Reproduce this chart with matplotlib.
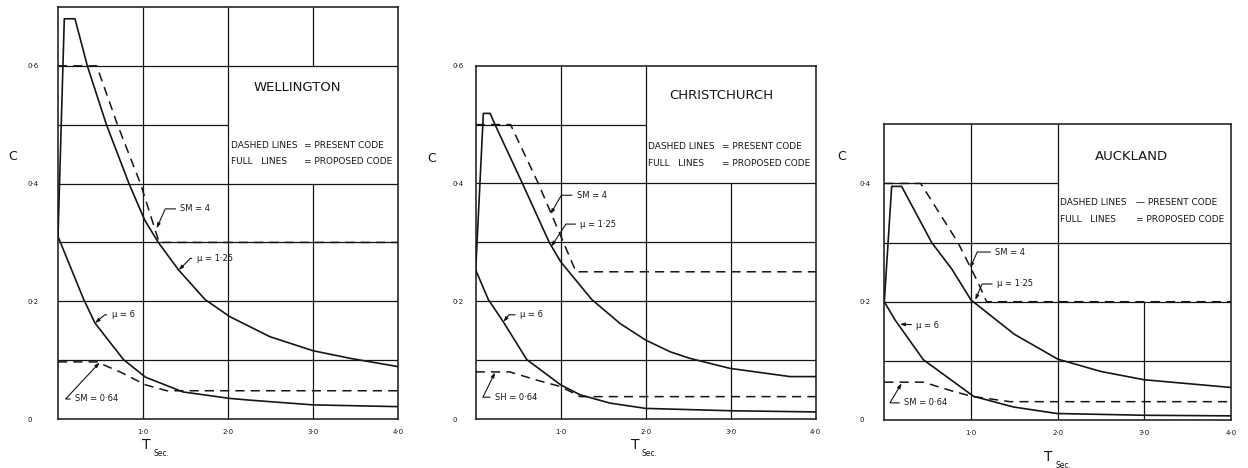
import numpy as np
import matplotlib.pyplot as plt

# ---- Wellington ----
wel_t_mu125 = [0, 0.074, 0.2, 0.345, 0.57, 0.835, 1.02, 1.18, 1.42, 1.73, 2.02, 2.49, 3.0, 3.44, 4.0]
wel_c_mu125 = [0.31, 0.68, 0.68, 0.60, 0.50, 0.40, 0.338, 0.30, 0.253, 0.203, 0.174, 0.140, 0.116, 0.103, 0.089]
wel_t_mu6 = [0, 0.30, 0.435, 0.77, 1.03, 1.47, 2.02, 2.26, 3.0, 4.0]
wel_c_mu6 = [0.31, 0.204, 0.163, 0.101, 0.071, 0.046, 0.035, 0.032, 0.024, 0.021]
wel_t_sm4 = [0, 0.455, 0.70, 0.97, 1.19, 4.0]
wel_c_sm4 = [0.6, 0.6, 0.5, 0.4, 0.3, 0.3]
wel_t_sm064 = [0, 0.455, 0.73, 1.03, 1.28, 4.0]
wel_c_sm064 = [0.097, 0.097, 0.080, 0.058, 0.048, 0.048]

# ---- Christchurch ----
chc_t_mu125 = [0, 0.09, 0.17, 0.227, 0.55, 0.865, 1.0, 1.365, 1.70, 2.0, 2.29, 2.52, 2.99, 3.70, 4.0]
chc_c_mu125 = [0.253, 0.519, 0.519, 0.50, 0.40, 0.30, 0.267, 0.203, 0.162, 0.134, 0.114, 0.103, 0.086, 0.072, 0.072]
chc_t_mu6 = [0, 0.148, 0.325, 0.6, 1.0, 1.23, 1.58, 2.0, 3.0, 4.0]
chc_c_mu6 = [0.253, 0.203, 0.165, 0.101, 0.058, 0.041, 0.027, 0.018, 0.014, 0.012]
chc_t_sm4 = [0, 0.41, 0.737, 1.18, 4.0]
chc_c_sm4 = [0.5, 0.5, 0.4, 0.25, 0.25]
chc_t_sm064 = [0, 0.40, 0.72, 1.0, 1.23, 4.0]
chc_c_sm064 = [0.080, 0.080, 0.066, 0.055, 0.038, 0.038]

# ---- Auckland ----
akl_t_mu125 = [0, 0.085, 0.2, 0.547, 0.78, 1.0, 1.5, 2.0, 2.5, 3.0, 4.0]
akl_c_mu125 = [0.2, 0.395, 0.395, 0.30, 0.255, 0.203, 0.145, 0.103, 0.082, 0.068, 0.055]
akl_t_mu6 = [0, 0.12, 0.45, 1.03, 1.49, 1.99, 3.0, 4.0]
akl_c_mu6 = [0.2, 0.17, 0.102, 0.040, 0.022, 0.011, 0.008, 0.007]
akl_t_sm4 = [0, 0.42, 0.85, 1.08, 1.18, 4.0]
akl_c_sm4 = [0.4, 0.4, 0.3, 0.233, 0.2, 0.2]
akl_t_sm064 = [0, 0.45, 0.76, 1.01, 1.45, 4.0]
akl_c_sm064 = [0.064, 0.064, 0.050, 0.040, 0.031, 0.031]

x_ticks = [1, 2, 3, 4]
x_tick_labels = ['1·0', '2·0', '3·0', '4·0']

INK = '#151515'

fig = plt.figure(figsize=(12.48, 4.68), dpi=100)
W, H = 1248.0, 468.0


def draw_panel(ax, ymax, yticks, hgrid, vgrid, curves, notes, title, title_xy, legend_c, left_pad):
    ax.set_xlim(0, 4)
    ax.set_ylim(0, ymax)
    for sp in ax.spines.values():
        sp.set_linewidth(1.1)
        sp.set_color(INK)
    # grid drawn piece by piece (gaps where the text box sits)
    for y, x0, x1 in hgrid:
        ax.hlines(y, x0, x1, color=INK, lw=0.9)
    for x, y0, y1 in vgrid:
        ax.vlines(x, y0, y1, color=INK, lw=0.9)

    for t, c, dashed in curves:
        if dashed:
            ax.plot(t, c, color=INK, lw=1.1, dashes=(6, 4))
        else:
            ax.plot(t, c, color=INK, lw=1.2)

    for label, xy, xyt, ang in notes:
        if ang is None:
            cs = 'arc3'
        else:
            cs = 'angle,angleA=0,angleB=%d,rad=0' % ang
        ax.annotate(label, xy=xy, xytext=xyt, fontsize=6, color=INK, ha='left', va='center',
                    arrowprops=dict(arrowstyle='-|>,head_length=0.35,head_width=0.12', mutation_scale=8,
                                    lw=0.8, color=INK, connectionstyle=cs,
                                    shrinkA=1.5, shrinkB=0))

    ax.text(title_xy[0], title_xy[1], title, fontsize=9.5, color=INK, ha='center', va='center')
    ax.text(2.03, legend_c[0], 'DASHED LINES', fontsize=6.5, color=INK, va='center')
    ax.text(2.90, legend_c[0], legend_c[2] + ' PRESENT CODE', fontsize=6.5, color=INK, va='center')
    ax.text(2.03, legend_c[1], 'FULL   LINES', fontsize=6.5, color=INK, va='center')
    ax.text(2.90, legend_c[1], '= PROPOSED CODE', fontsize=6.5, color=INK, va='center')

    ax.set_xticks(x_ticks)
    ax.set_xticklabels(x_tick_labels)
    ax.set_yticks(yticks)
    ax.set_yticklabels(['0' if v == 0 else ('%.1f' % v).replace('.', '·') for v in yticks])
    ax.tick_params(length=0, labelsize=5, colors=INK)
    ax.tick_params(axis='x', pad=7)
    ax.tick_params(axis='y', pad=left_pad)
    for lab in ax.get_yticklabels():
        lab.set_horizontalalignment('left')


ax1 = fig.add_axes([58 / W, 49 / H, 340 / W, 412 / H])
ax2 = fig.add_axes([475.7 / W, 49 / H, 340 / W, 353.3 / H])
ax3 = fig.add_axes([884.3 / W, 48 / H, 346.7 / W, 295.7 / H])

draw_panel(ax1, 0.7, [0, 0.2, 0.4, 0.6],
           [(0.1, 0, 4), (0.2, 0, 4), (0.3, 0, 4), (0.4, 0, 4), (0.5, 0, 2), (0.6, 0, 4)],
           [(1, 0, 0.7), (2, 0, 0.7), (3, 0, 0.4), (3, 0.6, 0.7)],
           [(wel_t_mu125, wel_c_mu125, False), (wel_t_mu6, wel_c_mu6, False),
            (wel_t_sm4, wel_c_sm4, True), (wel_t_sm064, wel_c_sm064, True)],
           [('SM = 4', (1.16, 0.324), (1.44, 0.357), 66),
            ('μ = 1·25', (1.42, 0.253), (1.63, 0.273), 45),
            ('μ = 6', (0.435, 0.163), (0.63, 0.177), 40),
            ('SM = 0·64', (0.49, 0.096), (0.2, 0.034), 47)],
           'WELLINGTON', (2.81, 0.563), (0.464, 0.438, '='), 21.6)

draw_panel(ax2, 0.6, [0, 0.2, 0.4, 0.6],
           [(0.1, 0, 4), (0.2, 0, 4), (0.3, 0, 4), (0.4, 0, 4), (0.5, 0, 2)],
           [(1, 0, 0.6), (2, 0, 0.6), (3, 0, 0.4)],
           [(chc_t_mu125, chc_c_mu125, False), (chc_t_mu6, chc_c_mu6, False),
            (chc_t_sm4, chc_c_sm4, True), (chc_t_sm064, chc_c_sm064, True)],
           [('SM = 4', (0.88, 0.348), (1.19, 0.38), 60),
            ('μ = 1·25', (0.89, 0.293), (1.23, 0.331), 57),
            ('μ = 6', (0.325, 0.165), (0.52, 0.177), 51),
            ('SH = 0·64', (0.227, 0.079), (0.227, 0.037), 64)],
           'CHRISTCHURCH', (2.89, 0.55), (0.462, 0.434, '='), 17)

draw_panel(ax3, 0.5, [0, 0.2, 0.4],
           [(0.1, 0, 4), (0.2, 0, 4), (0.3, 0, 4), (0.4, 0, 2)],
           [(1, 0, 0.5), (2, 0, 0.5), (3, 0, 0.2)],
           [(akl_t_mu125, akl_c_mu125, False), (akl_t_mu6, akl_c_mu6, False),
            (akl_t_sm4, akl_c_sm4, True), (akl_t_sm064, akl_c_sm064, True)],
           [('SM = 4', (0.99, 0.257), (1.28, 0.284), 66),
            ('μ = 1·25', (1.05, 0.203), (1.30, 0.23), 67),
            ('μ = 6', (0.18, 0.162), (0.37, 0.16), None),
            ('SM = 0·64', (0.2, 0.062), (0.23, 0.029), 59)],
           'AUCKLAND', (2.85, 0.446), (0.368, 0.339, '—'), 17.5)

# axis labels
for cx, cy in [(13, 157), (431.7, 158), (842, 157)]:
    fig.text(cx / W, 1 - cy / H, 'C', fontsize=9, color=INK, ha='center', va='center')
for tx, ty in [(146.7, 445), (635, 445), (1048.3, 456.7)]:
    fig.text(tx / W, 1 - ty / H, 'T', fontsize=10, color=INK, ha='center', va='center')
    fig.text((tx + 7) / W, 1 - (ty + 9) / H, 'Sec.', fontsize=5.5, color=INK, ha='left', va='center')

fig.savefig('out.png', dpi=100)
